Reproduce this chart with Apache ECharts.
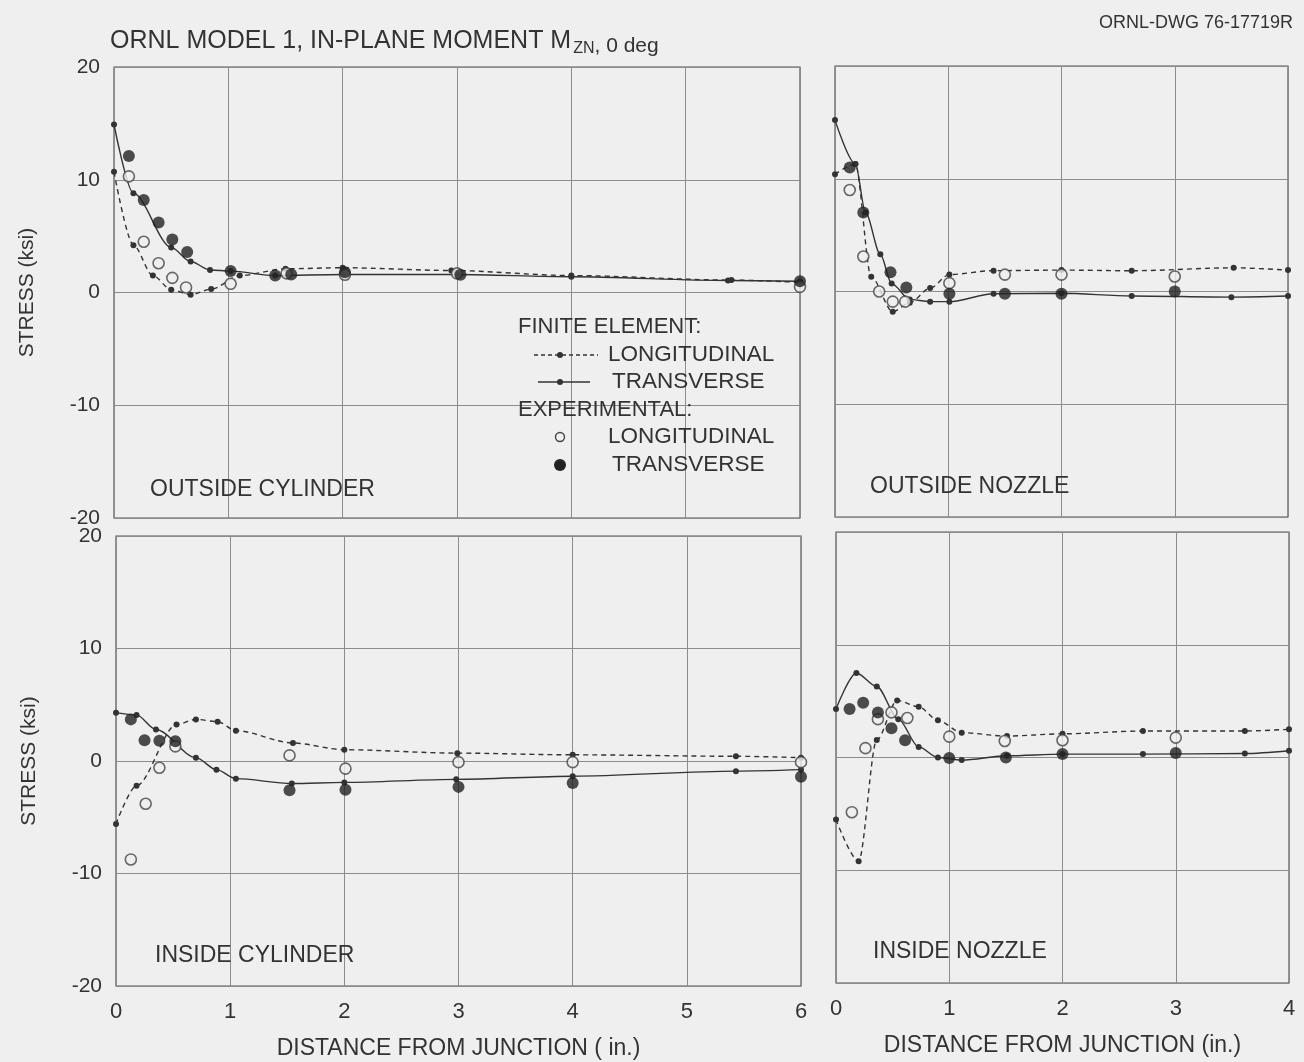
<!DOCTYPE html>
<html>
<head>
<meta charset="utf-8">
<script src="https://cdn.jsdelivr.net/npm/echarts@6/dist/echarts.min.js"></script>
<style>
html,body{margin:0;padding:0;background:#efefef;}
#chart{width:1304px;height:1062px;}
</style>
</head>
<body>
<div id="chart"></div>
<script>
// ---- tick labels ----
const yTicks = [-20, -10, 0, 10, 20];
const xTicksCyl = [0, 1, 2, 3, 4, 5, 6];
const xTicksNoz = [0, 1, 2, 3, 4];

// ---- OUTSIDE CYLINDER ----
const ocFeLong = [[0,10.7],[0.17,4.2],[0.34,1.5],[0.5,0.25],[0.67,-0.2],[0.85,0.3],[1.1,1.5],[1.5,2.1],[2.0,2.2],[2.95,1.95],[4.0,1.5],[5.4,1.1],[6,0.9]];
const ocFeTrans = [[0,14.9],[0.17,8.8],[0.5,4.0],[0.67,2.75],[0.84,2.0],[1.02,1.9],[1.41,1.5],[2.0,1.6],[3.0,1.6],[4.0,1.4],[5.37,1.07],[6,1.0]];
const ocExpLong = [[0.13,10.3],[0.26,4.5],[0.39,2.6],[0.51,1.3],[0.63,0.45],[1.02,0.77],[1.51,1.7],[2.02,1.57],[3.0,1.7],[6,0.5]];
const ocExpTrans = [[0.13,12.1],[0.26,8.2],[0.39,6.2],[0.51,4.7],[0.64,3.6],[1.02,1.9],[1.41,1.5],[1.55,1.6],[2.02,1.8],[3.03,1.57],[6,1.0]];

// ---- OUTSIDE NOZZLE ----
const onFeLong = [[0,10.4],[0.18,11.3],[0.32,1.3],[0.51,-1.8],[0.66,-1.0],[0.84,0.3],[1.01,1.5],[1.4,1.85],[2.0,1.9],[2.62,1.84],[3.52,2.1],[4,1.9]];
const onFeTrans = [[0,15.2],[0.18,11.3],[0.27,7.0],[0.4,3.3],[0.5,0.7],[0.66,-0.7],[0.84,-0.9],[1.01,-0.9],[1.4,-0.2],[2.0,-0.15],[2.62,-0.4],[3.5,-0.5],[4,-0.4]];
const onExpLong = [[0.13,9.0],[0.25,3.1],[0.39,0],[0.51,-0.9],[0.62,-0.9],[1.01,0.74],[1.5,1.5],[2.0,1.5],[3.0,1.33]];
const onExpTrans = [[0.13,11.0],[0.25,7.0],[0.49,1.7],[0.63,0.36],[1.01,-0.2],[1.5,-0.2],[2.0,-0.2],[3.0,0.0]];

// ---- INSIDE CYLINDER ----
const icFeLong = [[0,-5.6],[0.18,-2.2],[0.53,3.24],[0.7,3.7],[0.89,3.5],[1.05,2.7],[1.55,1.6],[2.0,1.0],[2.99,0.7],[4.0,0.55],[5.43,0.42],[6,0.3]];
const icFeTrans = [[0,4.3],[0.18,4.1],[0.35,2.8],[0.7,0.3],[0.88,-0.77],[1.05,-1.57],[1.54,-2.0],[2.0,-1.9],[2.98,-1.63],[4.0,-1.35],[5.43,-0.9],[6,-0.77]];
const icExpLong = [[0.13,-8.75],[0.26,-3.8],[0.38,-0.6],[0.52,1.3],[1.52,0.5],[2.01,-0.68],[3.0,-0.1],[4.0,-0.1],[6.0,-0.1]];
const icExpTrans = [[0.13,3.7],[0.25,1.85],[0.38,1.8],[0.52,1.75],[1.52,-2.6],[2.01,-2.55],[3.0,-2.3],[4.0,-1.96],[6.0,-1.4]];

// ---- INSIDE NOZZLE ----
const inFeLong = [[0,-5.5],[0.2,-9.2],[0.36,1.56],[0.54,5.06],[0.73,4.5],[0.9,3.3],[1.11,2.2],[1.51,1.9],[2.0,2.1],[2.71,2.35],[3.61,2.35],[4,2.5]];
const inFeTrans = [[0,4.3],[0.18,7.5],[0.36,6.3],[0.55,3.4],[0.73,0.94],[0.9,0],[1.11,-0.23],[1.51,0.15],[2.0,0.3],[2.71,0.3],[3.61,0.35],[4,0.6]];
const inExpLong = [[0.14,-4.85],[0.26,0.83],[0.37,3.4],[0.49,4.0],[0.63,3.5],[1.0,1.85],[1.49,1.47],[2.0,1.53],[3.0,1.76]];
const inExpTrans = [[0.12,4.3],[0.24,4.85],[0.37,4.0],[0.49,2.6],[0.61,1.53],[1.0,-0.05],[1.5,0],[2.0,0.3],[3.0,0.4]];

const panelLabels = ['OUTSIDE CYLINDER', 'OUTSIDE NOZZLE', 'INSIDE CYLINDER', 'INSIDE NOZZLE'];

const INK = '#333';
const FONT = 'Liberation Sans';
const GRIDC = '#8c8c8c';

const grids = [
  {left:114, width:686, top:67, height:451},
  {left:835, width:453, top:66, height:451},
  {left:116, width:685, top:536, height:450},
  {left:836, width:453, top:532, height:451}
].map(g => Object.assign(g, {show:true, borderColor:'#555', borderWidth:1.2, backgroundColor:'transparent'}));

function xAx(i, max, showLabels){
  return {
    type:'value', gridIndex:i, min:0, max:max, interval:1,
    axisLine:{show:false}, axisTick:{show:false},
    axisLabel:{show:showLabels, color:INK, fontFamily:FONT, fontSize:22, margin:15},
    splitLine:{show:true, lineStyle:{color:GRIDC, width:1}},
    name: showLabels ? (i===2 ? 'DISTANCE FROM JUNCTION ( in.)' : 'DISTANCE FROM JUNCTION (in.)') : '',
    nameLocation:'middle', nameGap:51,
    nameTextStyle:{color:INK, fontFamily:FONT, fontSize:23}
  };
}
function yAx(i, showLabels){
  return {
    type:'value', gridIndex:i, min:-20, max:20, interval:10,
    axisLine:{show:false}, axisTick:{show:false},
    axisLabel:{show:showLabels, color:INK, fontFamily:FONT, fontSize:21, margin:14,
      formatter: v => (v<0 ? '-' + Math.abs(v) : String(v))},
    splitLine:{show:true, lineStyle:{color:GRIDC, width:1}},
    name: showLabels ? 'STRESS (ksi)' : '',
    nameLocation:'middle', nameGap:76, nameRotate:90,
    nameTextStyle:{color:INK, fontFamily:FONT, fontSize:21}
  };
}

function feLine(data, i, dashed){
  return {
    type:'line', xAxisIndex:i, yAxisIndex:i, data:data,
    smooth:0.3, smoothMonotone:'x',
    symbol:'circle', symbolSize:6, showSymbol:true,
    lineStyle:{color:INK, width:1.4, type: dashed ? [5,4] : 'solid'},
    itemStyle:{color:INK}, z:3, silent:true
  };
}
function expPts(data, i, filled){
  return {
    type:'scatter', xAxisIndex:i, yAxisIndex:i, data:data,
    symbol:'circle', symbolSize: filled ? 12 : 11,
    itemStyle: filled ? {color:'#222'} : {color:'#efefef', borderColor:'#444', borderWidth:1.6},
    z:5, silent:true
  };
}

const panels = [
  [ocFeLong, ocFeTrans, ocExpLong, ocExpTrans],
  [onFeLong, onFeTrans, onExpLong, onExpTrans],
  [icFeLong, icFeTrans, icExpLong, icExpTrans],
  [inFeLong, inFeTrans, inExpLong, inExpTrans]
];
const series = [];
panels.forEach((p, i) => {
  series.push(feLine(p[0], i, true));
  series.push(feLine(p[1], i, false));
  series.push(expPts(p[2], i, false));
  series.push(expPts(p[3], i, true));
});

const txt = (x, y, s, size, extra) => ({
  type:'text', x:x, y:y, z:10,
  style:Object.assign({text:s, fill:INK, font: (size||20) + 'px "' + FONT + '"', textVerticalAlign:'middle'}, extra||{})
});

const legendGraphics = [
  txt(518, 327, 'FINITE ELEMENT:', 22),
  {type:'line', shape:{x1:534,y1:355,x2:598,y2:355}, style:{stroke:INK, lineWidth:1.3, lineDash:[4,3]}, z:10},
  {type:'circle', shape:{cx:560, cy:355, r:3}, style:{fill:INK}, z:10},
  txt(608, 355, 'LONGITUDINAL', 22.5),
  {type:'line', shape:{x1:538,y1:382,x2:590,y2:382}, style:{stroke:INK, lineWidth:1.4}, z:10},
  {type:'circle', shape:{cx:560, cy:382, r:3}, style:{fill:INK}, z:10},
  txt(612, 382, 'TRANSVERSE', 22.5),
  txt(518, 410, 'EXPERIMENTAL:', 22),
  {type:'circle', shape:{cx:560, cy:437, r:4.5}, style:{fill:'#efefef', stroke:'#444', lineWidth:1.4}, z:10},
  txt(608, 437, 'LONGITUDINAL', 22.5),
  {type:'circle', shape:{cx:560, cy:465, r:6}, style:{fill:'#222'}, z:10},
  txt(612, 465, 'TRANSVERSE', 22.5)
];

const panelLabelGraphics = [
  txt(150, 490, panelLabels[0], 23),
  txt(870, 487, panelLabels[1], 23),
  txt(155, 956, panelLabels[2], 23),
  txt(873, 952, panelLabels[3], 23)
];

const option = {
  backgroundColor:'#efefef',
  animation:false,
  title:[{
    left:110, top:29, padding:0,
    text:'{a|ORNL MODEL 1, IN-PLANE MOMENT M}{s|ZN}{b|, 0 deg}',
    textStyle:{
      rich:{
        a:{fontFamily:FONT, fontSize:25, fontWeight:'normal', color:INK, lineHeight:28, verticalAlign:'top'},
        s:{fontFamily:FONT, fontSize:16, fontWeight:'normal', color:INK, lineHeight:16, verticalAlign:'bottom', padding:[12,0,0,2]},
        b:{fontFamily:FONT, fontSize:21, fontWeight:'normal', color:INK, lineHeight:24, verticalAlign:'bottom', padding:[4,0,0,0]}
      }
    }
  },{
    right:6, top:9,
    text:'ORNL-DWG 76-17719R',
    textStyle:{fontFamily:FONT, fontSize:18, color:INK, fontWeight:'normal'}
  }],
  grid:grids,
  xAxis:[xAx(0,6,false), xAx(1,4,false), xAx(2,6,true), xAx(3,4,true)],
  yAxis:[yAx(0,true), yAx(1,false), yAx(2,true), yAx(3,false)],
  series:series,
  graphic:legendGraphics.concat(panelLabelGraphics)
};

const chart = echarts.init(document.getElementById('chart'), null, {renderer:'canvas'});
chart.setOption(option);
</script>
</body>
</html>
